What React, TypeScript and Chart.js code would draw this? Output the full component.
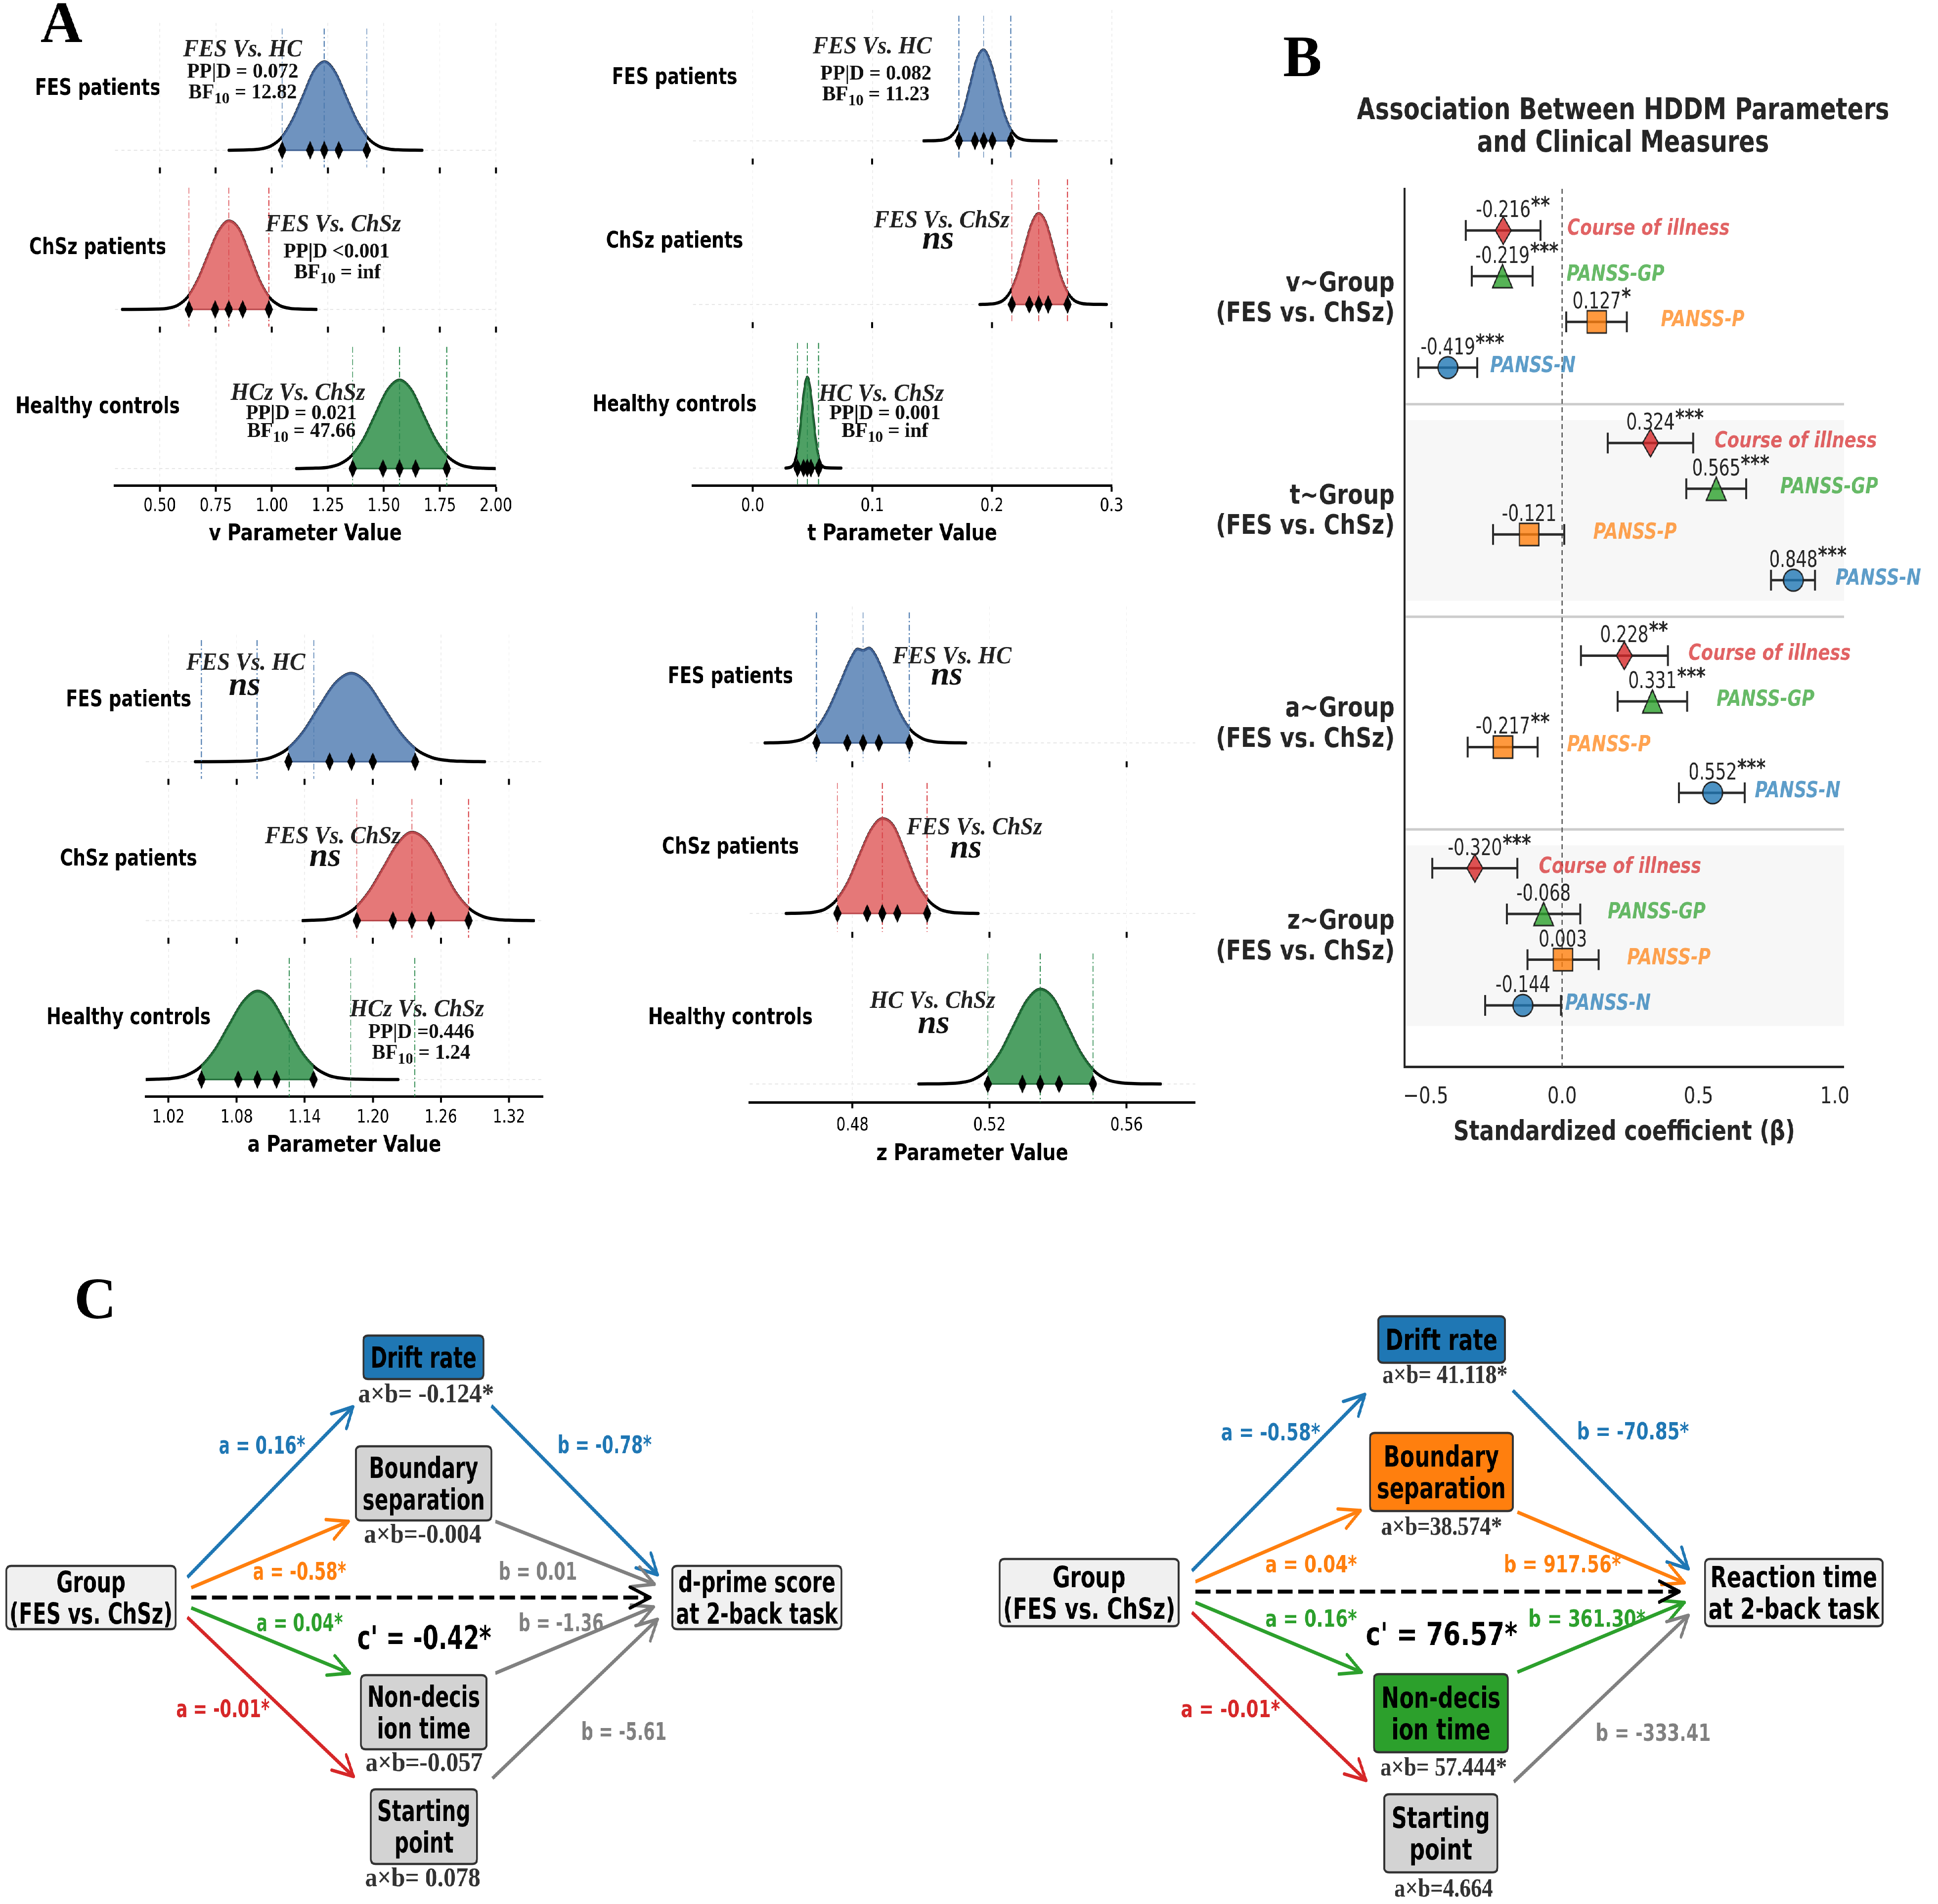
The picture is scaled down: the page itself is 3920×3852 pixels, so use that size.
import React, { useEffect, useRef } from 'react';
import { Chart, registerables } from 'chart.js';

Chart.register(...registerables);

const SX = 0.8;
const SANS = "'DejaVu Sans', 'Noto Sans', sans-serif";
const SERIF = "'Liberation Serif', 'DejaVu Serif', serif";
const SERIF_HS = 1 / SX;

/* ================= Panel A data ================= */
const ROW_LABELS = ['FES patients', 'ChSz patients', 'Healthy controls'];

const V_TICKS = [0.5, 0.75, 1.0, 1.25, 1.5, 1.75, 2.0];
const T_TICKS = [0.0, 0.1, 0.2, 0.3];
const A_TICKS = [1.02, 1.08, 1.14, 1.2, 1.26, 1.32];
const Z_TICKS = [0.48, 0.52, 0.56];

// v parameter
const V_FES_X = [0.808, 0.899, 0.947, 0.995, 1.043, 1.091, 1.140, 1.188, 1.236, 1.284, 1.332, 1.381, 1.429, 1.477, 1.525, 1.573, 1.671];
const V_FES_H = [0, 0.005, 0.014, 0.048, 0.142, 0.335, 0.615, 0.895, 1.0, 0.875, 0.6, 0.325, 0.138, 0.046, 0.013, 0.004, 0];
const V_FES_Q = [1.046, 1.171, 1.234, 1.299, 1.424];
const V_FES_LINES = [1.046, 1.234, 1.424];
const V_CHSZ_X = [0.332, 0.490, 0.535, 0.580, 0.626, 0.671, 0.717, 0.762, 0.808, 0.854, 0.899, 0.945, 0.990, 1.036, 1.081, 1.127, 1.199];
const V_CHSZ_H = [0, 0.004, 0.013, 0.047, 0.145, 0.34, 0.62, 0.88, 1.0, 0.905, 0.63, 0.33, 0.135, 0.044, 0.012, 0.004, 0];
const V_CHSZ_Q = [0.630, 0.747, 0.808, 0.870, 0.987];
const V_CHSZ_LINES = [0.630, 0.808, 0.987];
const V_HC_X = [1.109, 1.195, 1.249, 1.302, 1.356, 1.410, 1.463, 1.517, 1.570, 1.624, 1.677, 1.731, 1.784, 1.838, 1.891, 1.945, 2.000];
const V_HC_H = [0, 0.005, 0.014, 0.05, 0.145, 0.335, 0.615, 0.89, 1.0, 0.885, 0.605, 0.325, 0.14, 0.046, 0.013, 0.004, 0];
const V_HC_Q = [1.361, 1.496, 1.570, 1.642, 1.781];
const V_HC_LINES = [1.361, 1.570, 1.781];
const V_CMP = ['FES Vs. HC', 'FES Vs. ChSz', 'HCz Vs. ChSz'];
const V_PPD = ['PP|D = 0.072', 'PP|D <0.001', 'PP|D = 0.021'];
const V_BF = ['12.82', 'inf', '47.66'];

// t parameter
const T_FES_X = [0.143, 0.1543, 0.1599, 0.1654, 0.1709, 0.1764, 0.1820, 0.1875, 0.1930, 0.1985, 0.2041, 0.2096, 0.2151, 0.2206, 0.2262, 0.2317, 0.254];
const T_FES_H = [0, 0.004, 0.013, 0.047, 0.14, 0.33, 0.62, 0.9, 1.0, 0.87, 0.6, 0.325, 0.14, 0.046, 0.013, 0.004, 0];
const T_FES_Q = [0.1724, 0.1858, 0.1931, 0.2004, 0.2157];
const T_FES_LINES = [0.1724, 0.1931, 0.2157];
const T_CHSZ_X = [0.1898, 0.1975, 0.2034, 0.2094, 0.2153, 0.2213, 0.2272, 0.2332, 0.2391, 0.2450, 0.2510, 0.2569, 0.2629, 0.2688, 0.2748, 0.2807, 0.2958];
const T_CHSZ_H = [0, 0.004, 0.013, 0.046, 0.14, 0.33, 0.61, 0.885, 1.0, 0.9, 0.625, 0.33, 0.14, 0.045, 0.012, 0.004, 0];
const T_CHSZ_Q = [0.2166, 0.2312, 0.2391, 0.2470, 0.2632];
const T_CHSZ_LINES = [0.2166, 0.2391, 0.2632];
const T_HC_X = [0.0277, 0.0300, 0.0322, 0.0345, 0.0367, 0.0390, 0.0412, 0.0435, 0.0457, 0.0479, 0.0502, 0.0524, 0.0547, 0.0569, 0.0592, 0.0614, 0.0740];
const T_HC_H = [0, 0.004, 0.013, 0.046, 0.14, 0.33, 0.61, 0.88, 1.0, 0.88, 0.61, 0.33, 0.14, 0.046, 0.013, 0.004, 0];
const T_HC_Q = [0.0375, 0.0426, 0.0457, 0.0487, 0.0551];
const T_HC_LINES = [0.0375, 0.0457, 0.0551];
const T_CMP = ['FES Vs. HC', 'FES Vs. ChSz', 'HC Vs. ChSz'];
const T_PPD = ['PP|D = 0.082', '', 'PP|D = 0.001'];
const T_BF = ['11.23', '', 'inf'];

// a parameter
const A_FES_X = [1.0434, 1.0816, 1.0958, 1.1100, 1.1243, 1.1385, 1.1527, 1.1670, 1.1812, 1.1954, 1.2097, 1.2239, 1.2381, 1.2524, 1.2666, 1.2808, 1.2988];
const A_FES_H = [0, 0.004, 0.013, 0.046, 0.14, 0.335, 0.62, 0.89, 1.0, 0.88, 0.605, 0.33, 0.14, 0.046, 0.013, 0.004, 0];
const A_FES_Q = [1.1257, 1.1619, 1.1812, 1.2000, 1.2373];
const A_FES_LINES = [1.049, 1.098, 1.148];
const A_CHSZ_X = [1.1382, 1.1465, 1.1591, 1.1717, 1.1842, 1.1968, 1.2094, 1.2219, 1.2345, 1.2471, 1.2596, 1.2722, 1.2848, 1.2973, 1.3099, 1.3225, 1.3418];
const A_CHSZ_H = [0, 0.004, 0.013, 0.046, 0.14, 0.33, 0.6, 0.87, 1.0, 0.9, 0.64, 0.335, 0.14, 0.046, 0.013, 0.004, 0];
const A_CHSZ_Q = [1.1859, 1.2177, 1.2345, 1.2514, 1.2844];
const A_CHSZ_LINES = [1.1859, 1.2345, 1.2844];
const A_HC_X = [1.0000, 1.0101, 1.0227, 1.0353, 1.0479, 1.0605, 1.0731, 1.0857, 1.0983, 1.1109, 1.1235, 1.1361, 1.1487, 1.1613, 1.1739, 1.1865, 1.2224];
const A_HC_H = [0, 0.004, 0.013, 0.046, 0.14, 0.33, 0.61, 0.88, 1.0, 0.9, 0.62, 0.33, 0.14, 0.046, 0.013, 0.004, 0];
const A_HC_Q = [1.0490, 1.0814, 1.0983, 1.1151, 1.1478];
const A_HC_LINES = [1.1263, 1.1806, 1.237];
const A_CMP = ['FES Vs. HC', 'FES Vs. ChSz', 'HCz Vs. ChSz'];
const A_PPD = ['', '', 'PP|D =0.446'];
const A_BF = ['', '', '1.24'];

// z parameter
const Z_FES_X = [0.4544, 0.4589, 0.4624, 0.4658, 0.4693, 0.4727, 0.4762, 0.4797, 0.4815, 0.4831, 0.4848, 0.4866, 0.4900, 0.4935, 0.4969, 0.5004, 0.5038, 0.5073, 0.5131];
const Z_FES_H = [0, 0.004, 0.013, 0.046, 0.14, 0.33, 0.61, 0.9, 0.99, 0.975, 1.0, 0.93, 0.65, 0.34, 0.14, 0.046, 0.013, 0.004, 0];
const Z_FES_Q = [0.4695, 0.4785, 0.4831, 0.4877, 0.4966];
const Z_FES_LINES = [0.4695, 0.4831, 0.4966];
const Z_CHSZ_X = [0.4606, 0.4653, 0.4687, 0.4720, 0.4753, 0.4787, 0.4820, 0.4854, 0.4887, 0.4920, 0.4954, 0.4987, 0.5021, 0.5054, 0.5087, 0.5121, 0.5167];
const Z_CHSZ_H = [0, 0.004, 0.013, 0.046, 0.14, 0.33, 0.61, 0.88, 1.0, 0.92, 0.63, 0.33, 0.14, 0.046, 0.013, 0.004, 0];
const Z_CHSZ_Q = [0.4756, 0.4843, 0.4887, 0.4931, 0.5018];
const Z_CHSZ_LINES = [0.4756, 0.4887, 0.5018];
const Z_HC_X = [0.4993, 0.5074, 0.5113, 0.5152, 0.5191, 0.5231, 0.5270, 0.5309, 0.5348, 0.5387, 0.5426, 0.5466, 0.5505, 0.5544, 0.5583, 0.5622, 0.5699];
const Z_HC_H = [0, 0.004, 0.013, 0.046, 0.14, 0.33, 0.61, 0.88, 1.0, 0.9, 0.62, 0.33, 0.14, 0.046, 0.013, 0.004, 0];
const Z_HC_Q = [0.5195, 0.5296, 0.5348, 0.5403, 0.5502];
const Z_HC_LINES = [0.5195, 0.5348, 0.5502];
const Z_CMP = ['FES Vs. HC', 'FES Vs. ChSz', 'HC Vs. ChSz'];
const Z_PPD = ['', '', ''];
const Z_BF = ['', '', ''];

/* ================= Panel B data ================= */
const B_GROUPS = ['v~Group', 't~Group', 'a~Group', 'z~Group'];
const B_COMPARISON = '(FES vs. ChSz)';
const B_CATS = ['Course of illness', 'PANSS-GP', 'PANSS-P', 'PANSS-N'];
const B_X_TICKS = [-0.5, 0.0, 0.5, 1.0];
const B_BETA_COURSE = [-0.216, 0.324, 0.228, -0.320];
const B_LO_COURSE = [-0.353, 0.167, 0.069, -0.476];
const B_HI_COURSE = [-0.080, 0.481, 0.388, -0.164];
const B_SIG_COURSE = ['**', '***', '**', '***'];
const B_BETA_GP = [-0.219, 0.565, 0.331, -0.068];
const B_LO_GP = [-0.331, 0.455, 0.203, -0.203];
const B_HI_GP = [-0.108, 0.675, 0.459, 0.067];
const B_SIG_GP = ['***', '***', '***', ''];
const B_BETA_P = [0.127, -0.121, -0.217, 0.003];
const B_LO_P = [0.015, -0.253, -0.346, -0.127];
const B_HI_P = [0.237, 0.008, -0.090, 0.134];
const B_SIG_P = ['*', '', '**', ''];
const B_BETA_N = [-0.419, 0.848, 0.552, -0.144];
const B_LO_N = [-0.527, 0.766, 0.429, -0.283];
const B_HI_N = [-0.311, 0.927, 0.670, -0.004];
const B_SIG_N = ['***', '***', '***', ''];

/* ================= Panel C data ================= */
const C_GROUP = ['Group', '(FES vs. ChSz)'];
const C_MEDIATORS = [['Drift rate'], ['Boundary', 'separation'], ['Non-decis', 'ion time'], ['Starting', 'point']];
const C1_OUTCOME = ['d-prime score', 'at 2-back task'];
const C1_A = [0.16, -0.58, 0.04, -0.01];
const C1_A_SIG = [true, true, true, true];
const C1_B = [-0.78, 0.01, -1.36, -5.61];
const C1_B_SIG = [true, false, false, false];
const C1_AB = ['a×b= -0.124*', 'a×b=-0.004', 'a×b=-0.057', 'a×b= 0.078'];
const C1_AB_SIG = [true, false, false, false];
const C1_C = -0.42;
const C2_OUTCOME = ['Reaction time', 'at 2-back task'];
const C2_A = [-0.58, 0.04, 0.16, -0.01];
const C2_A_SIG = [true, true, true, true];
const C2_B = [-70.85, 917.56, 361.30, -333.41];
const C2_B_SIG = [true, true, true, false];
const C2_AB = ['a×b= 41.118*', 'a×b=38.574*', 'a×b= 57.444*', 'a×b=4.664'];
const C2_AB_SIG = [true, true, true, false];
const C2_C = 76.57;

/* ================= styles / layout ================= */
const ROW_STYLE = [
  { fill: '#6f93bf', edge: '#3d5f92', line: '#4f7cb0' },
  { fill: '#e57878', edge: '#b9474b', line: '#d9474c' },
  { fill: '#4ea064', edge: '#1f6b36', line: '#2e8b4f' },
];
const MED_COLORS = ['#1f77b4', '#ff7f0e', '#2ca02c', '#d62728'];
const GRAY = '#808080';
const B_RGB = ['214,39,40', '44,160,44', '255,127,14', '31,119,180'];
const B_SHAPES = ['diamond', 'triangle', 'square', 'circle'];
const B_SIZES = [[40, 56], [50, 47], [49, 45], [50, 44]];
const B_LABEL_DX = [0.235, 0.235, 0.235, 0.155];
const GSTEP = 4.65;

/* ================= helpers ================= */
function txt(ctx: any, s: string, x: number, y: number, font: string, color: string, align: any = 'center', hs = 1) {
  ctx.save();
  ctx.translate(x, y);
  ctx.scale(hs, 1);
  ctx.font = font;
  ctx.fillStyle = color;
  ctx.textAlign = align;
  ctx.textBaseline = 'alphabetic';
  ctx.fillText(s, 0, 0);
  ctx.restore();
}

function rich(ctx: any, parts: any[], cx: number, y: number, color: string, hs: number) {
  ctx.save();
  ctx.textBaseline = 'alphabetic';
  ctx.textAlign = 'left';
  let total = 0;
  const ws = parts.map((p: any) => {
    ctx.font = p.font;
    const w = ctx.measureText(p.t).width;
    total += w;
    return w;
  });
  ctx.translate(cx, y);
  ctx.scale(hs, 1);
  ctx.fillStyle = color;
  let x = -total / 2;
  parts.forEach((p: any, k: number) => {
    ctx.font = p.font;
    ctx.fillText(p.t, x, p.dy || 0);
    x += ws[k];
  });
  ctx.restore();
}

function markerCanvas(shape: string, w: number, h: number, fill: string, stroke: string, lw: number) {
  const c = document.createElement('canvas');
  c.width = Math.ceil(w + lw * 2 + 4);
  c.height = Math.ceil(h + lw * 2 + 4);
  const g = c.getContext('2d') as CanvasRenderingContext2D;
  const cx = c.width / 2;
  const cy = c.height / 2;
  g.beginPath();
  if (shape === 'diamond') {
    g.moveTo(cx, cy - h / 2);
    g.lineTo(cx + w / 2, cy);
    g.lineTo(cx, cy + h / 2);
    g.lineTo(cx - w / 2, cy);
    g.closePath();
  } else if (shape === 'circle') {
    g.ellipse(cx, cy, w / 2, h / 2, 0, 0, Math.PI * 2);
  } else if (shape === 'square') {
    g.rect(cx - w / 2, cy - h / 2, w, h);
  } else {
    g.moveTo(cx, cy - h / 2);
    g.lineTo(cx + w / 2, cy + h / 2);
    g.lineTo(cx - w / 2, cy + h / 2);
    g.closePath();
  }
  g.fillStyle = fill;
  g.fill();
  if (lw > 0) {
    g.lineWidth = lw;
    g.strokeStyle = stroke;
    g.lineJoin = 'miter';
    g.stroke();
  }
  return c;
}

function baseOptions() {
  return {
    responsive: false,
    animation: false,
    devicePixelRatio: 1,
    events: [],
    plugins: { legend: { display: false }, tooltip: { enabled: false }, title: { display: false } },
  };
}

/* ================= Panel A (ridge plots) ================= */
function row(xs: number[], hs: number[], q: number[], lines: number[], cmp: string, ppd: string, bf: string, ann: number[][]) {
  return { xs, hs, q, lines, cmp, ppd, bf, ann };
}

const RIDGE_PANELS: any[] = [
  {
    key: 'v', area: [0, 0, 1080, 1130], xMin: 0.30, xMax: 2.0, xPx: [232.5, 1003], fesBase: 304, spacing: 322,
    ticks: V_TICKS, dec: 2, title: 'v Parameter Value', tickPad: 7.6, titlePad: 21, labelDx: -35, letter: 'A',
    rows: [
      row(V_FES_X, V_FES_H, V_FES_Q, V_FES_LINES, V_CMP[0], V_PPD[0], V_BF[0], [[0.870, 0.64], [0.870, 0.50], [0.870, 0.37]]),
      row(V_CHSZ_X, V_CHSZ_H, V_CHSZ_Q, V_CHSZ_LINES, V_CMP[1], V_PPD[1], V_BF[1], [[1.274, 0.54], [1.289, 0.37], [1.293, 0.24]]),
      row(V_HC_X, V_HC_H, V_HC_Q, V_HC_LINES, V_CMP[2], V_PPD[2], V_BF[2], [[1.117, 0.48], [1.132, 0.354], [1.132, 0.242]]),
    ],
  },
  {
    key: 't', area: [1150, 0, 2330, 1130], xMin: -0.05, xMax: 0.30, xPx: [1401, 2248], fesBase: 285, spacing: 331,
    ticks: T_TICKS, dec: 1, title: 't Parameter Value', tickPad: 7.6, titlePad: 21, labelDx: -37, letter: '',
    rows: [
      row(T_FES_X, T_FES_H, T_FES_Q, T_FES_LINES, T_CMP[0], T_PPD[0], T_BF[0], [[0.100, 0.583], [0.103, 0.417], [0.103, 0.29]]),
      row(T_CHSZ_X, T_CHSZ_H, T_CHSZ_Q, T_CHSZ_LINES, T_CMP[1], T_PPD[1], T_BF[1], [[0.158, 0.52], [0.155, 0.39]]),
      row(T_HC_X, T_HC_H, T_HC_Q, T_HC_LINES, T_CMP[2], T_PPD[2], T_BF[2], [[0.1075, 0.458], [0.1106, 0.34], [0.1106, 0.233]]),
    ],
  },
  {
    key: 'a', area: [0, 1200, 1130, 2370], xMin: 1.0, xMax: 1.35, xPx: [295, 1098], fesBase: 1541, spacing: 321.5,
    ticks: A_TICKS, dec: 2, title: 'a Parameter Value', tickPad: 8.7, titlePad: 24, labelDx: -35, letter: '',
    rows: [
      row(A_FES_X, A_FES_H, A_FES_Q, A_FES_LINES, A_CMP[0], A_PPD[0], A_BF[0], [[1.088, 0.628], [1.087, 0.47]]),
      row(A_CHSZ_X, A_CHSZ_H, A_CHSZ_Q, A_CHSZ_LINES, A_CMP[1], A_PPD[1], A_BF[1], [[1.1647, 0.537], [1.158, 0.395]]),
      row(A_HC_X, A_HC_H, A_HC_Q, A_HC_LINES, A_CMP[2], A_PPD[2], A_BF[2], [[1.2389, 0.448], [1.2426, 0.305], [1.2426, 0.174]]),
    ],
  },
  {
    key: 'z', area: [1250, 1200, 2440, 2380], xMin: 0.45, xMax: 0.58, xPx: [1516, 2416.5], fesBase: 1503, spacing: 345,
    ticks: Z_TICKS, dec: 2, title: 'z Parameter Value', tickPad: 13, titlePad: 17, labelDx: -39, letter: '',
    rows: [
      row(Z_FES_X, Z_FES_H, Z_FES_Q, Z_FES_LINES, Z_CMP[0], Z_PPD[0], Z_BF[0], [[0.5091, 0.513], [0.5075, 0.387]]),
      row(Z_CHSZ_X, Z_CHSZ_H, Z_CHSZ_Q, Z_CHSZ_LINES, Z_CMP[1], Z_PPD[1], Z_BF[1], [[0.5156, 0.511], [0.5131, 0.375]]),
      row(Z_HC_X, Z_HC_H, Z_HC_Q, Z_HC_LINES, Z_CMP[2], Z_PPD[2], Z_BF[2], [[0.5034, 0.493], [0.5037, 0.345]]),
    ],
  },
];

function ridgeConfig(P: any) {
  const [cl, ct, cr, cb] = P.area;
  const S = P.spacing;
  const caTop = P.fesBase - 0.8 * S;
  const caBottom = P.fesBase + 2.108 * S;
  const PEAK = 0.555;
  const TOP = 0.765;
  const BOT = -0.108;
  const diamond = markerCanvas('diamond', 21, 38, '#000', '#000', 0);
  const datasets: any[] = [];
  P.rows.forEach((r: any, i: number) => {
    const base = 2 - i;
    datasets.push({
      type: 'line',
      data: r.xs.map((x: number, k: number) => ({ x, y: base + PEAK * r.hs[k] })),
      borderColor: '#000',
      borderWidth: 6.5,
      pointRadius: 0,
      fill: false,
      cubicInterpolationMode: 'monotone',
      borderJoinStyle: 'round',
      borderCapStyle: 'round',
      order: 1,
    });
  });
  P.rows.forEach((r: any, i: number) => {
    const base = 2 - i;
    datasets.push({
      type: 'scatter',
      data: r.q.map((x: number) => ({ x, y: base })),
      pointStyle: diamond,
      pointRadius: 10,
      order: 0,
    });
  });

  const plugin = {
    id: 'ridge_' + P.key,
    beforeDatasetsDraw(chart: any) {
      const { ctx, chartArea: ca, scales } = chart;
      ctx.save();
      ctx.strokeStyle = '#e6e6e6';
      ctx.lineWidth = 2;
      ctx.setLineDash([8, 8]);
      for (let i = 0; i < 3; i++) {
        const yy = scales.y.getPixelForValue(2 - i);
        ctx.beginPath();
        ctx.moveTo(ca.left, yy);
        ctx.lineTo(ca.right, yy);
        ctx.stroke();
      }
      ctx.restore();
    },
    afterDatasetDraw(chart: any, args: any) {
      const i = args.index;
      if (i > 2) return;
      const r = P.rows[i];
      const base = 2 - i;
      const { ctx, chartArea: ca, scales } = chart;
      const xs = scales.x;
      const ys = scales.y;
      const line = args.meta.dataset;
      const pts = args.meta.data;
      const xl = xs.getPixelForValue(r.q[0]);
      const xr = xs.getPixelForValue(r.q[4]);
      const yb = ys.getPixelForValue(base);
      const tracePath = () => {
        if (line && typeof line.path === 'function') {
          line.path(ctx);
        } else {
          pts.forEach((p: any, k: number) => (k ? ctx.lineTo(p.x, p.y) : ctx.moveTo(p.x, p.y)));
        }
      };
      ctx.save();
      ctx.beginPath();
      ctx.rect(xl, ca.top, xr - xl, yb - ca.top + 1);
      ctx.clip();
      ctx.beginPath();
      tracePath();
      ctx.lineTo(pts[pts.length - 1].x, yb);
      ctx.lineTo(pts[0].x, yb);
      ctx.closePath();
      ctx.fillStyle = ROW_STYLE[i].fill;
      ctx.fill();
      ctx.beginPath();
      tracePath();
      ctx.lineWidth = 5;
      ctx.strokeStyle = ROW_STYLE[i].edge;
      ctx.stroke();
      ctx.restore();
      ctx.save();
      ctx.strokeStyle = ROW_STYLE[i].edge;
      ctx.lineWidth = 3;
      ctx.beginPath();
      ctx.moveTo(xl, yb);
      ctx.lineTo(xr, yb);
      ctx.stroke();
      ctx.strokeStyle = ROW_STYLE[i].line;
      ctx.lineWidth = 2.2;
      ctx.setLineDash([12, 5, 3, 5]);
      r.lines.forEach((v: number) => {
        const xx = xs.getPixelForValue(v);
        ctx.beginPath();
        ctx.moveTo(xx, ys.getPixelForValue(base + TOP));
        ctx.lineTo(xx, ys.getPixelForValue(base + BOT));
        ctx.stroke();
      });
      ctx.restore();
    },
    afterDraw(chart: any) {
      const { ctx, chartArea: ca, scales } = chart;
      const xs = scales.x;
      const ys = scales.y;
      P.rows.forEach((r: any, i: number) => {
        const yy = ys.getPixelForValue(2 - i + 0.40);
        txt(ctx, ROW_LABELS[i], ca.left + P.labelDx / SX, yy + 17, `bold 46px ${SANS}`, '#000', 'center', 0.97);
      });
      ctx.save();
      ctx.strokeStyle = '#000';
      ctx.lineWidth = 5;
      for (let i = 0; i < 2; i++) {
        const y0 = ys.getPixelForValue(2 - i + BOT);
        P.ticks.forEach((t: number) => {
          const xx = xs.getPixelForValue(t);
          ctx.beginPath();
          ctx.moveTo(xx, y0);
          ctx.lineTo(xx, y0 + 12);
          ctx.stroke();
        });
      }
      ctx.restore();
      P.rows.forEach((r: any, i: number) => {
        const base = 2 - i;
        const a = r.ann;
        const px = (v: number) => xs.getPixelForValue(v);
        const py = (d: number) => ys.getPixelForValue(base + d);
        txt(ctx, r.cmp, px(a[0][0]), py(a[0][1]) + 16, `italic bold 50px ${SERIF}`, '#222', 'center', 1.17);
        if (r.ppd) {
          txt(ctx, r.ppd, px(a[1][0]), py(a[1][1]) + 14, `bold 42px ${SERIF}`, '#111', 'center', 1.22);
          rich(ctx, [
            { t: 'BF', font: `bold 42px ${SERIF}` },
            { t: '10', font: `bold 32px ${SERIF}`, dy: 10 },
            { t: ' = ' + r.bf, font: `bold 42px ${SERIF}` },
          ], px(a[2][0]), py(a[2][1]) + 14, '#111', 1.22);
        } else {
          txt(ctx, 'ns', px(a[1][0]), py(a[1][1]) + 16, `italic bold 68px ${SERIF}`, '#111', 'center', SERIF_HS);
        }
      });
      if (P.letter) {
        txt(ctx, P.letter, (82 - cl) / SX, 85 - ct, `bold 118px ${SERIF}`, '#000', 'left', SERIF_HS);
      }
    },
  };

  const opts: any = baseOptions();
  opts.layout = { padding: { left: (P.xPx[0] - cl) / SX, right: (cr - P.xPx[1]) / SX, top: caTop - ct, bottom: 0 } };
  opts.scales = {
    x: {
      type: 'linear',
      min: P.xMin,
      max: P.xMax,
      afterBuildTicks: (s: any) => { s.ticks = P.ticks.map((v: number) => ({ value: v })); },
      afterFit: (s: any) => { s.height = cb - caBottom; },
      grid: { display: true, drawOnChartArea: true, drawTicks: true, color: '#eeeeee', lineWidth: 2, tickLength: 12, tickWidth: 5, tickColor: '#000' },
      border: { display: true, color: '#000', width: 5, dash: [6, 6] },
      ticks: {
        font: { family: SANS, size: 37 }, color: '#000', padding: P.tickPad, autoSkip: false, maxRotation: 0,
        callback: (v: any) => Number(v).toFixed(P.dec),
      },
      title: { display: true, text: P.title, font: { family: SANS, size: 47, weight: 'bold' }, color: '#000', padding: { top: 0, bottom: P.titlePad } },
    },
    y: { type: 'linear', min: BOT, max: 2.8, display: false },
  };
  return { type: 'scatter', data: { datasets }, options: opts, plugins: [plugin] };
}

/* ================= Panel B (forest plot) ================= */
const B_AREA = [2400, 50, 3920, 2360];

function forestConfig() {
  const [cl, ct, cr, cb] = B_AREA;
  const caLeft = 2841;
  const caRight = 3730;
  const caTop = 382;
  const caBottom = 2158;
  const series = [
    { beta: B_BETA_COURSE, lo: B_LO_COURSE, hi: B_HI_COURSE, sig: B_SIG_COURSE },
    { beta: B_BETA_GP, lo: B_LO_GP, hi: B_HI_GP, sig: B_SIG_GP },
    { beta: B_BETA_P, lo: B_LO_P, hi: B_HI_P, sig: B_SIG_P },
    { beta: B_BETA_N, lo: B_LO_N, hi: B_HI_N, sig: B_SIG_N },
  ];
  const datasets = series.map((s, ci) => ({
    type: 'scatter',
    label: B_CATS[ci],
    data: s.beta.map((b, g) => ({ x: b, y: g * GSTEP + ci })),
    pointStyle: markerCanvas(B_SHAPES[ci], B_SIZES[ci][0], B_SIZES[ci][1], `rgba(${B_RGB[ci]},0.8)`, '#1e1e1e', 3),
    pointRadius: 12,
  }));
  const plugin = {
    id: 'forest',
    beforeDatasetsDraw(chart: any) {
      const { ctx, chartArea: ca, scales } = chart;
      const x = scales.x;
      const y = scales.y;
      ctx.save();
      ctx.fillStyle = '#f7f7f7';
      [1, 3].forEach((g) => {
        const y1 = y.getPixelForValue(g * GSTEP - 0.5);
        const y2 = y.getPixelForValue(g * GSTEP + 3.45);
        ctx.fillRect(ca.left + 3, y1, ca.right - ca.left - 3, y2 - y1);
      });
      ctx.strokeStyle = '#cccccc';
      ctx.lineWidth = 5;
      [0, 1, 2].forEach((g) => {
        const yy = y.getPixelForValue(g * GSTEP + 3.8);
        ctx.beginPath();
        ctx.moveTo(ca.left + 3, yy);
        ctx.lineTo(ca.right, yy);
        ctx.stroke();
      });
      const x0 = x.getPixelForValue(0);
      ctx.strokeStyle = '#555';
      ctx.lineWidth = 2.5;
      ctx.setLineDash([10, 7]);
      ctx.beginPath();
      ctx.moveTo(x0, ca.top);
      ctx.lineTo(x0, ca.bottom);
      ctx.stroke();
      ctx.setLineDash([]);
      ctx.strokeStyle = '#2b2b2b';
      ctx.lineWidth = 5;
      series.forEach((s, ci) => s.beta.forEach((b, g) => {
        const yy = y.getPixelForValue(g * GSTEP + ci);
        const xl = x.getPixelForValue(s.lo[g]);
        const xr = x.getPixelForValue(s.hi[g]);
        ctx.beginPath();
        ctx.moveTo(xl, yy);
        ctx.lineTo(xr, yy);
        ctx.stroke();
        [xl, xr].forEach((xx) => {
          ctx.beginPath();
          ctx.moveTo(xx, yy - 21);
          ctx.lineTo(xx, yy + 21);
          ctx.stroke();
        });
      }));
      ctx.restore();
    },
    afterDatasetsDraw(chart: any) {
      const { ctx, scales } = chart;
      const x = scales.x;
      const y = scales.y;
      series.forEach((s, ci) => s.beta.forEach((b, g) => {
        const yy = y.getPixelForValue(g * GSTEP + ci);
        const xx = x.getPixelForValue(b);
        const num = b.toFixed(3);
        const nf = `46px ${SANS}`;
        const nhs = 0.93;
        ctx.save();
        ctx.font = nf;
        const w = ctx.measureText(num).width * nhs;
        ctx.restore();
        const bl = yy - 43 + 16;
        txt(ctx, num, xx, bl, nf, '#262626', 'center', nhs);
        if (s.sig[g]) txt(ctx, s.sig[g], xx + w / 2 + 1, bl - 8, `bold 46px ${SANS}`, '#262626', 'left');
        txt(ctx, B_CATS[ci], x.getPixelForValue(b + B_LABEL_DX[ci]), yy + 9, `italic bold 44px ${SANS}`, `rgba(${B_RGB[ci]},0.72)`, 'left');
      }));
      txt(ctx, 'Association Between HDDM Parameters', (3283 - cl) / SX, 219 - ct + 22, `bold 60px ${SANS}`, '#262626', 'center');
      txt(ctx, 'and Clinical Measures', (3283 - cl) / SX, 285 - ct + 22, `bold 60px ${SANS}`, '#262626', 'center');
      txt(ctx, 'B', (2595 - cl) / SX, 154 - ct, `bold 118px ${SERIF}`, '#000', 'left', SERIF_HS);
    },
  };
  const opts: any = baseOptions();
  opts.layout = { padding: { left: 0, right: (cr - caRight) / SX, top: caTop - ct, bottom: 0 } };
  opts.scales = {
    x: {
      type: 'linear', min: -0.578, max: 1.034,
      afterBuildTicks: (s: any) => { s.ticks = B_X_TICKS.map((v) => ({ value: v })); },
      afterFit: (s: any) => { s.height = cb - caBottom; },
      grid: { display: false, drawTicks: false },
      border: { display: true, color: '#262626', width: 5 },
      ticks: {
        font: { family: SANS, size: 47 }, color: '#262626', padding: 34, autoSkip: false, maxRotation: 0,
        callback: (v: any) => (Number(v) < 0 ? '\u2212' + Math.abs(Number(v)).toFixed(1) : Number(v).toFixed(1)),
      },
      title: { display: true, text: 'Standardized coefficient (\u03b2)', font: { family: SANS, size: 55, weight: 'bold' }, color: '#262626', padding: { top: 0, bottom: 35 } },
    },
    y: {
      type: 'linear', reverse: true, min: -0.91, max: 18.29,
      afterBuildTicks: (s: any) => { s.ticks = B_GROUPS.map((g, gi) => ({ value: gi * GSTEP + 1.5 })); },
      afterFit: (s: any) => { s.width = (caLeft - cl) / SX; },
      grid: { display: false, drawTicks: false },
      border: { display: true, color: '#262626', width: 5 },
      ticks: {
        font: { family: SANS, size: 56, weight: 'bold', lineHeight: 1.1 }, color: '#262626', padding: 25, autoSkip: false,
        callback: (v: any, idx: number) => [B_GROUPS[idx], B_COMPARISON],
      },
    },
  };
  return { type: 'scatter', data: { datasets }, options: opts, plugins: [plugin] };
}

/* ================= Panel C (mediation diagrams) ================= */
const C_LEFT_LAYOUT = {
  area: [0, 2560, 1780, 3852],
  group: [13, 3168, 355, 3296],
  outcome: [1360, 3168, 1702, 3296],
  boxes: [[735, 2702, 978, 2790], [720, 2926, 994, 3076], [730, 3389, 984, 3539], [750, 3620, 965, 3771]],
  ab: [[862, 2819], [855, 3103], [858, 3565], [855, 3798]],
  aArrows: [[379, 3191, 714, 2846], [387, 3212, 705, 3078], [387, 3253, 707, 3385], [379, 3272, 715, 3594]],
  bArrows: [[994, 2844, 1330, 3186], [1002, 3078, 1324, 3205], [1002, 3385, 1322, 3251], [996, 3598, 1330, 3276]],
  cArrow: [387, 3232, 1315, 3232],
  aLabels: [[530, 2923], [606, 3178], [606, 3282], [451, 3456]],
  bLabels: [[1223, 2922], [1088, 3178], [1135, 3282], [1262, 3502]],
  cLabel: [858, 3312],
  boxFont: 58, boxHs: 0.88, pathFont: 50, pathHs: 0.84, cFont: 66, cHs: 0.88, abFont: 54, abHs: 1.15, letter: 'C',
};
const C_RIGHT_LAYOUT = {
  area: [1960, 2600, 3920, 3852],
  group: [2022, 3154, 2384, 3290],
  outcome: [3449, 3154, 3808, 3290],
  boxes: [[2788, 2663, 3044, 2757], [2771, 2899, 3060, 3057], [2779, 3387, 3050, 3545], [2800, 3630, 3029, 3788]],
  ab: [[2923, 2781], [2916, 3088], [2920, 3575], [2920, 3820]],
  aArrows: [[2411, 3178, 2761, 2821], [2418, 3200, 2752, 3056], [2418, 3242, 2754, 3383], [2411, 3262, 2763, 3602]],
  bArrows: [[3060, 2813, 3415, 3174], [3069, 3059, 3407, 3202], [3069, 3383, 3407, 3242], [3062, 3605, 3415, 3268]],
  cArrow: [2418, 3220, 3397, 3220],
  aLabels: [[2570, 2897], [2652, 3164], [2652, 3274], [2489, 3457]],
  bLabels: [[3303, 2895], [3160, 3164], [3210, 3274], [3344, 3505]],
  cLabel: [2916, 3305],
  boxFont: 58, boxHs: 0.93, pathFont: 48, pathHs: 0.93, cFont: 64, cHs: 0.98, abFont: 53, abHs: 1.06, letter: '',
};

function diagramConfig(L: any, D: any) {
  const [cl, ct, cr, cb] = L.area;
  const arrowDs = (p: number[], color: string, w: number, dash: number[]) => ({
    type: 'line',
    data: [{ x: p[0], y: p[1] }, { x: p[2], y: p[3] }],
    borderColor: color,
    borderWidth: w,
    borderDash: dash,
    borderCapStyle: 'butt',
    pointRadius: 0,
    fill: false,
    tension: 0,
  });
  const datasets: any[] = [];
  D.a.forEach((v: number, i: number) => datasets.push(arrowDs(L.aArrows[i], MED_COLORS[i], 7.5, [])));
  D.b.forEach((v: number, i: number) => datasets.push(arrowDs(L.bArrows[i], D.bSig[i] ? MED_COLORS[i] : GRAY, 7.5, [])));
  datasets.push(arrowDs(L.cArrow, '#000', 8, [38, 14]));

  const plugin = {
    id: 'diagram',
    afterDatasetsDraw(chart: any) {
      const { ctx, scales } = chart;
      const X = (v: number) => scales.x.getPixelForValue(v);
      const Y = (v: number) => scales.y.getPixelForValue(v);
      chart.data.datasets.forEach((ds: any, di: number) => {
        const meta = chart.getDatasetMeta(di);
        const p1 = meta.data[0];
        const p2 = meta.data[1];
        const vx = (p2.x - p1.x) * SX;
        const vy = p2.y - p1.y;
        const len = Math.hypot(vx, vy);
        const ux = vx / len;
        const uy = vy / len;
        const HL = 46;
        const ang = 0.48;
        ctx.save();
        ctx.strokeStyle = ds.borderColor;
        ctx.lineWidth = 7;
        ctx.lineCap = 'round';
        ctx.lineJoin = 'round';
        ctx.beginPath();
        [-1, 1].forEach((sgn) => {
          const c = Math.cos(ang);
          const s = Math.sin(ang) * sgn;
          const bx = -(ux * c - uy * s) * HL;
          const by = -(ux * s + uy * c) * HL;
          ctx.moveTo(p2.x + bx / SX, p2.y + by);
          ctx.lineTo(p2.x, p2.y);
        });
        ctx.stroke();
        ctx.restore();
      });
      const box = (rect: number[], fill: string, lines: string[]) => {
        const fs = L.boxFont;
        const x1 = X(rect[0]);
        const y1 = Y(rect[1]);
        const x2 = X(rect[2]);
        const y2 = Y(rect[3]);
        const rx = 10 / SX;
        const ry = 10;
        ctx.save();
        ctx.beginPath();
        ctx.moveTo(x1 + rx, y1);
        ctx.lineTo(x2 - rx, y1);
        ctx.quadraticCurveTo(x2, y1, x2, y1 + ry);
        ctx.lineTo(x2, y2 - ry);
        ctx.quadraticCurveTo(x2, y2, x2 - rx, y2);
        ctx.lineTo(x1 + rx, y2);
        ctx.quadraticCurveTo(x1, y2, x1, y2 - ry);
        ctx.lineTo(x1, y1 + ry);
        ctx.quadraticCurveTo(x1, y1, x1 + rx, y1);
        ctx.closePath();
        ctx.fillStyle = fill;
        ctx.fill();
        ctx.lineWidth = 4.5;
        ctx.strokeStyle = '#333';
        ctx.stroke();
        ctx.restore();
        const cy = (y1 + y2) / 2;
        const gap = fs * 1.1;
        lines.forEach((t, k) => {
          txt(ctx, t, (x1 + x2) / 2, cy + (k - (lines.length - 1) / 2) * gap + 0.36 * fs, `bold ${fs}px ${SANS}`, '#000', 'center', L.boxHs);
        });
      };
      box(L.group, '#f0f0f0', C_GROUP);
      box(L.outcome, '#f0f0f0', D.outcome);
      C_MEDIATORS.forEach((m, i) => {
        box(L.boxes[i], D.abSig[i] ? MED_COLORS[i] : '#d3d3d3', m);
        txt(ctx, D.ab[i], X(L.ab[i][0]), Y(L.ab[i][1]) + 0.33 * L.abFont, `bold ${L.abFont}px ${SERIF}`, '#333', 'center', L.abHs);
      });
      const pf = `bold ${L.pathFont}px ${SANS}`;
      D.a.forEach((v: number, i: number) => {
        txt(ctx, `a = ${v.toFixed(2)}${D.aSig[i] ? '*' : ''}`, X(L.aLabels[i][0]), Y(L.aLabels[i][1]) + 0.36 * L.pathFont, pf, MED_COLORS[i], 'center', L.pathHs);
      });
      D.b.forEach((v: number, i: number) => {
        txt(ctx, `b = ${v.toFixed(2)}${D.bSig[i] ? '*' : ''}`, X(L.bLabels[i][0]), Y(L.bLabels[i][1]) + 0.36 * L.pathFont, pf, D.bSig[i] ? MED_COLORS[i] : GRAY, 'center', L.pathHs);
      });
      txt(ctx, `c' = ${D.c.toFixed(2)}*`, X(L.cLabel[0]), Y(L.cLabel[1]) + 0.36 * L.cFont, `bold ${L.cFont}px ${SANS}`, '#000', 'center', L.cHs);
      if (L.letter) txt(ctx, L.letter, (150 - cl) / SX, 2667 - ct, `bold 118px ${SERIF}`, '#000', 'left', SERIF_HS);
    },
  };
  const opts: any = baseOptions();
  opts.layout = { padding: 0 };
  opts.scales = {
    x: { type: 'linear', display: false, min: cl, max: cr },
    y: { type: 'linear', display: false, reverse: true, min: ct, max: cb },
  };
  return { type: 'scatter', data: { datasets }, options: opts, plugins: [plugin] };
}

/* ================= React ================= */
function ChartBox(props: { area: number[]; build: () => any }) {
  const ref = useRef<HTMLCanvasElement | null>(null);
  const [l, t, r, b] = props.area;
  const w = Math.round((r - l) / SX);
  const h = b - t;
  useEffect(() => {
    const chart = new Chart(ref.current as HTMLCanvasElement, props.build());
    return () => chart.destroy();
  }, []);
  return (
    <canvas
      ref={ref}
      width={w}
      height={h}
      style={{ position: 'absolute', left: l / SX, top: t, width: w, height: h, display: 'block' }}
    />
  );
}

export default function App() {
  const leftData = { outcome: C1_OUTCOME, a: C1_A, aSig: C1_A_SIG, b: C1_B, bSig: C1_B_SIG, ab: C1_AB, abSig: C1_AB_SIG, c: C1_C };
  const rightData = { outcome: C2_OUTCOME, a: C2_A, aSig: C2_A_SIG, b: C2_B, bSig: C2_B_SIG, ab: C2_AB, abSig: C2_AB_SIG, c: C2_C };
  return (
    <div style={{ position: 'absolute', left: 0, top: 0, width: 3920, height: 3852, overflow: 'hidden', background: '#fff' }}>
      <div style={{ position: 'absolute', left: 0, top: 0, width: 3920 / SX, height: 3852, transform: `scaleX(${SX})`, transformOrigin: '0 0' }}>
        {RIDGE_PANELS.map((P) => (
          <ChartBox key={P.key} area={P.area} build={() => ridgeConfig(P)} />
        ))}
        <ChartBox area={B_AREA} build={() => forestConfig()} />
        <ChartBox area={C_LEFT_LAYOUT.area} build={() => diagramConfig(C_LEFT_LAYOUT, leftData)} />
        <ChartBox area={C_RIGHT_LAYOUT.area} build={() => diagramConfig(C_RIGHT_LAYOUT, rightData)} />
      </div>
    </div>
  );
}
